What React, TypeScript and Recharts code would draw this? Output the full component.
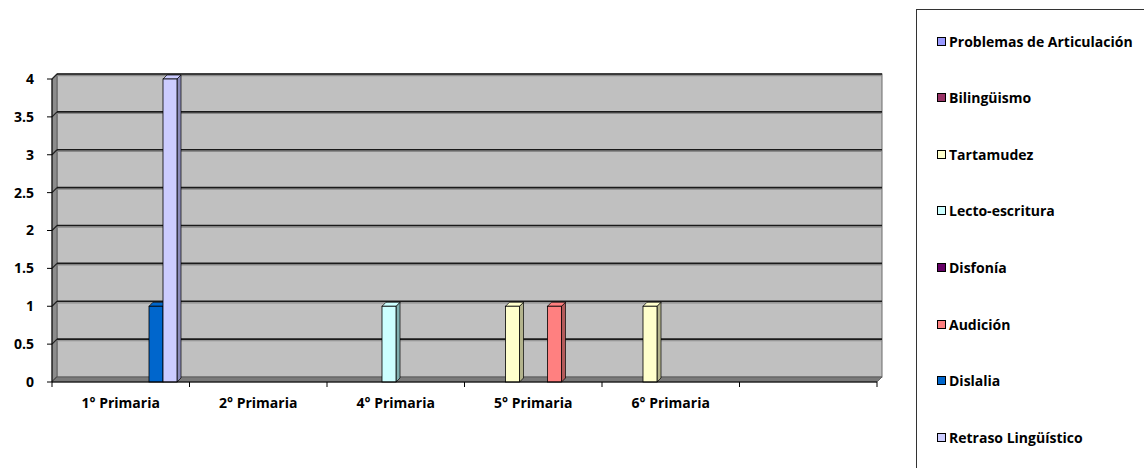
import React from 'react';
import { Bar, BarChart, ReferenceArea, XAxis, YAxis } from 'recharts';

// categorías (la última columna queda vacía, como en la hoja original)
const categories = ['1° Primaria', '2° Primaria', '4° Primaria', '5° Primaria', '6° Primaria', ''];

const seriesNames = [
  'Problemas de Articulación',
  'Bilingüismo',
  'Tartamudez',
  'Lecto-escritura',
  'Disfonía',
  'Audición',
  'Dislalia',
  'Retraso Lingüístico',
];

const problemasArticulacion = [0, 0, 0, 0, 0, 0];
const bilinguismo = [0, 0, 0, 0, 0, 0];
const tartamudez = [0, 0, 0, 1, 1, 0];
const lectoEscritura = [0, 0, 1, 0, 0, 0];
const disfonia = [0, 0, 0, 0, 0, 0];
const audicion = [0, 0, 0, 1, 0, 0];
const dislalia = [1, 0, 0, 0, 0, 0];
const retrasoLinguistico = [4, 0, 0, 0, 0, 0];

const yTicks = [0, 0.5, 1, 1.5, 2, 2.5, 3, 3.5, 4];

const seriesValues = [
  problemasArticulacion,
  bilinguismo,
  tartamudez,
  lectoEscritura,
  disfonia,
  audicion,
  dislalia,
  retrasoLinguistico,
];

// paleta clásica de Excel
const colors = ['#9999FF', '#993366', '#FFFFCC', '#CCFFFF', '#660066', '#FF8080', '#0066CC', '#CCCCFF'];
const sideColors = ['#6666b0', '#5c1f3d', '#b3b38c', '#80b0b0', '#3d003d', '#b35a5a', '#004080', '#8a8ab8'];

const data = categories.map((name, i) => {
  const row: Record<string, string | number> = { name };
  seriesNames.forEach((s, j) => {
    row[`s${j}`] = seriesValues[j][i];
  });
  return row;
});

const FONT = '"Open Sans", "Noto Sans", sans-serif';
const DEPTH = 5;
const Y_MAX = yTicks[yTicks.length - 1];

// paredes 3D + líneas de división (sobre la pared del fondo)
function Walls(props: any) {
  const { x, y, width, height } = props;
  const b = y + height;
  return (
    <g>
      <rect x={x + DEPTH} y={y - DEPTH} width={width} height={height} fill="#C0C0C0" stroke="#6a6a6a" strokeWidth={1} />
      <polygon
        points={`${x},${y} ${x + DEPTH},${y - DEPTH} ${x + DEPTH},${b - DEPTH} ${x},${b}`}
        fill="#8c8c8c"
        stroke="#555"
        strokeWidth={0.8}
      />
      {yTicks.map((t) => {
        const yy = b - (height * t) / Y_MAX;
        return (
          <g key={t}>
            <line x1={x} y1={yy} x2={x + DEPTH} y2={yy - DEPTH} stroke="#222" strokeWidth={1.2} />
            {t > 0 && (
              <>
                <line x1={x + DEPTH} y1={yy - DEPTH + 1.6} x2={x + width + DEPTH} y2={yy - DEPTH + 1.6} stroke="#8a8a8a" strokeWidth={1.2} />
                <line x1={x + DEPTH} y1={yy - DEPTH} x2={x + width + DEPTH} y2={yy - DEPTH} stroke="#1a1a1a" strokeWidth={1.6} />
              </>
            )}
          </g>
        );
      })}
      <polygon
        points={`${x},${b} ${x + DEPTH},${b - DEPTH} ${x + width + DEPTH},${b - DEPTH} ${x + width},${b}`}
        fill="#7a7a7a"
        stroke="#555"
        strokeWidth={0.8}
      />
    </g>
  );
}

// etiqueta centrada + marcas en los bordes de cada categoría
function CategoryTick(props: any) {
  const { x, y, payload, width, visibleTicksCount, index } = props;
  const band = width / visibleTicksCount;
  const left = x - band / 2;
  return (
    <g>
      <line x1={left} y1={y} x2={left} y2={y + 5} stroke="#000" />
      {index === visibleTicksCount - 1 && <line x1={left + band} y1={y} x2={left + band} y2={y + 5} stroke="#000" />}
      <text x={x} y={y + 26} textAnchor="middle" fontFamily={FONT} fontWeight={700} fontSize={14} fill="#000">
        {payload.value}
      </text>
    </g>
  );
}

function Bar3D(props: any) {
  const { x, y, width, height, fill, side } = props;
  if (!height || height <= 0) return null;
  const d = 4;
  return (
    <g>
      <polygon
        points={`${x + width},${y} ${x + width + d},${y - d} ${x + width + d},${y + height - d} ${x + width},${y + height}`}
        fill={side}
        stroke="#000"
        strokeWidth={0.7}
      />
      <polygon
        points={`${x},${y} ${x + d},${y - d} ${x + width + d},${y - d} ${x + width},${y}`}
        fill={fill}
        stroke="#000"
        strokeWidth={0.7}
      />
      <rect x={x} y={y} width={width} height={height} fill={fill} stroke="#000" strokeWidth={0.8} />
    </g>
  );
}

function Legend() {
  return (
    <div
      style={{
        position: 'absolute',
        left: 916,
        top: 9,
        width: 260,
        height: 480,
        border: '1px solid #333',
        boxSizing: 'border-box',
        fontFamily: FONT,
        fontWeight: 700,
        fontSize: 14,
        color: '#000',
      }}
    >
      {seriesNames.map((s, i) => (
        <div
          key={s}
          style={{
            position: 'absolute',
            left: 20,
            top: 21 + i * 56.6,
            height: 20,
            display: 'flex',
            alignItems: 'center',
            whiteSpace: 'nowrap',
          }}
        >
          <span
            style={{
              display: 'inline-block',
              width: 7,
              height: 7,
              background: colors[i],
              border: '1.5px solid #000',
              marginRight: 3,
            }}
          />
          {s}
        </div>
      ))}
    </div>
  );
}

export default function App() {
  return (
    <div style={{ position: 'absolute', left: 0, top: 0, width: 1144, height: 468, background: '#fff', overflow: 'hidden' }}>
      <BarChart
        width={1144}
        height={468}
        data={data}
        margin={{ top: 79, right: 267, bottom: 56, left: 0 }}
        barSize={14}
        barGap={0}
      >
        <ReferenceArea y1={0} y2={Y_MAX} ifOverflow="visible" shape={<Walls />} />
        <XAxis
          dataKey="name"
          axisLine={{ stroke: '#000', strokeWidth: 1 }}
          tickLine={false}
          tickSize={0}
          tickMargin={0}
          height={30}
          interval={0}
          tick={<CategoryTick />}
        />
        <YAxis
          domain={[0, Y_MAX]}
          ticks={yTicks}
          width={52}
          axisLine={{ stroke: '#000' }}
          tickLine={{ stroke: '#000' }}
          tickSize={5}
          tickMargin={13}
          tick={{ fontFamily: FONT, fontWeight: 700, fontSize: 14, fill: '#000' }}
        />
        {seriesNames.map((s, i) => (
          <Bar
            key={s}
            dataKey={`s${i}`}
            name={s}
            fill={colors[i]}
            isAnimationActive={false}
            shape={(p: any) => <Bar3D {...p} side={sideColors[i]} />}
          />
        ))}
      </BarChart>
      <Legend />
    </div>
  );
}
